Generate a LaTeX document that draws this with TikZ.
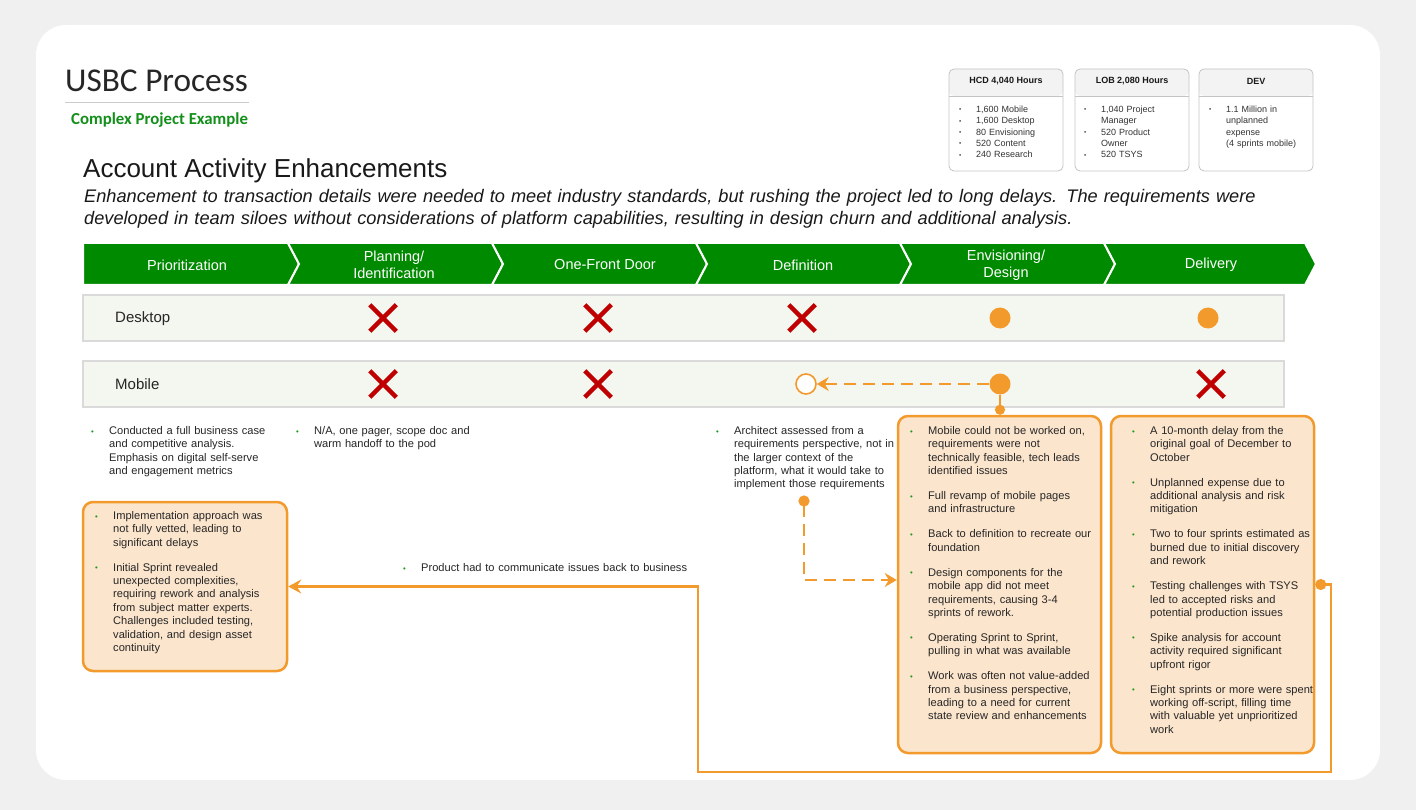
\documentclass[tikz,border=0pt]{standalone}
\usepackage{fontspec}
\setmainfont{Liberation Sans}
\newfontfamily\titlefont{Carlito}
\usepackage{graphicx}
\usetikzlibrary{arrows.meta}
\usetikzlibrary{shapes.misc}

\definecolor{stagegreen}{HTML}{008A00}
\definecolor{titlegreen}{HTML}{12901A}
\definecolor{bulgreen}{HTML}{1A9A1A}
\definecolor{flowor}{HTML}{F39A2C}
\definecolor{peach}{HTML}{FCE5CD}
\definecolor{xred}{HTML}{C00000}
\definecolor{rowfill}{HTML}{F3F7EF}
\definecolor{rowline}{HTML}{DADADA}
\definecolor{bodytext}{HTML}{262626}
\definecolor{pagegray}{HTML}{F0F0F0}
\definecolor{hdrgray}{HTML}{F3F3F3}
\definecolor{statline}{HTML}{C4C4C4}
\definecolor{rulegray}{HTML}{CCCCCC}

% bullet items: green ones for the notes, black ones for the hour boxes
\newcommand{\gitem}[1]{\par\noindent\hangindent=18pt\hangafter=1\makebox[18pt][l]{\strut\textcolor{bulgreen}{\raisebox{0.5pt}{\scalebox{0.7}{\textbullet}}}}{\let\\\newline#1}\par}
\newcommand{\gsep}{\vspace{11.65pt}}
\newcommand{\kitem}[1]{\par\noindent\hangindent=17pt\hangafter=1\makebox[17pt][l]{\strut\raisebox{0.5pt}{\scalebox{0.7}{\textbullet}}}{\let\\\newline#1}\par}

\tikzset{
  flowtip/.tip={Stealth[length=13pt, width=14pt, inset=4.5pt]},
  dashtip/.tip={Stealth[length=12pt, width=14pt, inset=4pt]},
  chevron/.style={fill=stagegreen, draw=white, line width=2pt},
  stagelabel/.style={text=white, font=\fontsize{14.5}{17}\selectfont, align=center, inner sep=0pt},
  rowbox/.style={fill=rowfill, draw=rowline, line width=1.6pt, minimum width=1201pt, minimum height=46pt, inner sep=0pt},
  rowlabel/.style={anchor=west, inner sep=0pt, text=bodytext, font=\fontsize{15}{18}\selectfont},
  crossmark/.style={cross out, draw=xred, line width=4.5pt, minimum size=22pt, inner sep=0pt},
  dotmark/.style={circle, fill=flowor, minimum size=21pt, inner sep=0pt},
  openmark/.style={circle, draw=flowor, line width=1.6pt, fill=white, minimum size=20pt, inner sep=0pt},
  notebox/.style={draw=flowor, line width=2.5pt, fill=peach, rounded corners=10pt, inner sep=0pt},
  notetext/.style={anchor=north west, inner sep=0pt, text width=195pt, align=left, text=bodytext, font=\fontsize{11.1}{13.35}\selectfont},
  statbox/.style={draw=statline, line width=0.8pt, fill=white, rounded corners=5pt, minimum width=114pt, minimum height=102pt, inner sep=0pt,
    path picture={
      \fill[hdrgray] (path picture bounding box.north west) rectangle ([yshift=-27pt]path picture bounding box.north east);
      \draw[statline, line width=0.8pt] ([yshift=-27pt]path picture bounding box.north west) -- ([yshift=-27pt]path picture bounding box.north east);
    }},
  stathead/.style={inner sep=0pt, text=black!90, font=\bfseries\fontsize{9}{11}\selectfont},
  statlist/.style={anchor=north west, inner sep=0pt, text width=100pt, align=left, text=black!80, font=\fontsize{9}{11.3}\selectfont},
  flow/.style={draw=flowor, line width=2.5pt},
  dashflow/.style={draw=flowor, line width=2.8pt, dash pattern=on 12pt off 7pt}
}

\begin{document}
\begin{tikzpicture}[x=1pt, y=-1pt]
  \useasboundingbox (0,0) rectangle (1416,810);
  \fill[pagegray] (0,0) rectangle (1416,810);
  \fill[white, rounded corners=30pt] (36,25) rectangle (1380,780);

  % title block
  \node[anchor=base west, inner sep=0pt, text=black!85, font=\titlefont\fontsize{33.3}{36}\selectfont] (title) at (65,92) {USBC Process};
  \draw[rulegray, line width=1pt] (65,103) -- (249,103);
  \node[anchor=base west, inner sep=0pt, text=titlegreen, font=\titlefont\bfseries\fontsize{16.8}{18}\selectfont] (example) at (71,125) {Complex Project Example};
  \node[anchor=base west, inner sep=0pt, text=black!90, font=\fontsize{26}{28}\selectfont] (heading) at (83,178) {Account Activity Enhancements};
  \node[anchor=north west, inner sep=0pt, text width=1300pt, align=left, text=black!90, font=\itshape\fontsize{18.2}{22}\selectfont] (summary) at (84,186.6)
    {\strut Enhancement to transaction details were needed to meet industry standards, but rushing the project led to long delays. The requirements were\\
     developed in team siloes without considerations of platform capabilities, resulting in design churn and additional analysis.};

  % hour boxes
  \node[statbox] (hcd) at (1006,120) {};
  \node[statbox] (lob) at (1132,120) {};
  \node[statbox] (dev) at (1256,120) {};
  \node[stathead] (hcdhead) at (1006,81) {HCD 4,040 Hours};
  \node[stathead] (lobhead) at (1132,81) {LOB 2,080 Hours};
  \node[stathead] (devhead) at (1256,81) {DEV};
  \node[statlist] (hcdlist) at (959,101) {\kitem{1,600 Mobile}\kitem{1,600 Desktop}\kitem{80 Envisioning}\kitem{520 Content}\kitem{240 Research}};
  \node[statlist] (loblist) at (1084,101) {\kitem{1,040 Project\\ Manager}\kitem{520 Product\\ Owner}\kitem{520 TSYS}};
  \node[statlist] (devlist) at (1209,101) {\kitem{1.1 Million in\\ unplanned\\ expense\\ (4 sprints mobile)}};

  % stage chevrons
  \foreach \l/\r/\n in {83/288/0, 288/492/11, 492/696/11, 696/900/11, 900/1104/11, 1104/1305/11}
    \filldraw[chevron] (\l,243) -- (\r,243) -- (\r+11,264) -- (\r,285) -- (\l,285) -- (\l+\n,264) -- cycle;
  \node[stagelabel] (prio) at (187,265) {Prioritization};
  \node[stagelabel] (plan) at (394,265) {Planning/\\Identification};
  \node[stagelabel] (ofd) at (605,265) {One-Front Door};
  \node[stagelabel] (defn) at (803,265) {Definition};
  \node[stagelabel] (envn) at (1006,265) {Envisioning/\\Design};
  \node[stagelabel] (deli) at (1211,265) {Delivery};

  % desktop and mobile rows
  \node[rowbox] (deskrow) at (683.5,318) {};
  \node[rowbox] (mobrow) at (683.5,384) {};
  \node[rowlabel] (desklab) at (115,318.5) {Desktop};
  \node[rowlabel] (moblab) at (115,384) {Mobile};

  \node[crossmark] (deskplan) at (383,318) {};
  \node[crossmark] (deskofd) at (598,318) {};
  \node[crossmark] (deskdef) at (802,318) {};
  \node[dotmark] (deskenv) at (1000,318) {};
  \node[dotmark] (deskdel) at (1208,318) {};

  \node[crossmark] (mobplan) at (383,384) {};
  \node[crossmark] (mobofd) at (598,384) {};
  \node[openmark] (mobdef) at (806,384) {};
  \node[dotmark] (mobenv) at (1000,384) {};
  \node[crossmark] (mobdel) at (1211,384) {};

  % notes under the stages
  \node[notetext] (bizcase) at (91,421) {\gitem{Conducted a full business case\\ and competitive analysis.\\ Emphasis on digital self-serve\\ and engagement metrics}};
  \node[notetext] (pager) at (296,421) {\gitem{N/A, one pager, scope doc and\\ warm handoff to the pod}};
  \node[notetext] (archtxt) at (716,421) {\gitem{Architect assessed from a\\ requirements perspective, not in\\ the larger context of the\\ platform, what it would take to\\ implement those requirements}};
  \node[notetext, text width=320pt] (prodtxt) at (403,558) {\gitem{Product had to communicate issues back to business}};

  % orange issue boxes
  \node[notebox, minimum width=204pt, minimum height=169pt] (leftbox) at (185,586.5) {};
  \node[notebox, minimum width=203pt, minimum height=337pt] (envbox) at (999.5,584.5) {};
  \node[notebox, minimum width=203pt, minimum height=337pt] (delbox) at (1212.5,584.5) {};

  \node[notetext] (lefttxt) at (95,506) {%
    \gitem{Implementation approach was\\ not fully vetted, leading to\\ significant delays}\gsep
    \gitem{Initial Sprint revealed\\ unexpected complexities,\\ requiring rework and analysis\\ from subject matter experts.\\ Challenges included testing,\\ validation, and design asset\\ continuity}};
  \node[notetext] (envtxt) at (910,421) {%
    \gitem{Mobile could not be worked on,\\ requirements were not\\ technically feasible, tech leads\\ identified issues}\gsep
    \gitem{Full revamp of mobile pages\\ and infrastructure}\gsep
    \gitem{Back to definition to recreate our\\ foundation}\gsep
    \gitem{Design components for the\\ mobile app did not meet\\ requirements, causing 3-4\\ sprints of rework.}\gsep
    \gitem{Operating Sprint to Sprint,\\ pulling in what was available}\gsep
    \gitem{Work was often not value-added\\ from a business perspective,\\ leading to a need for current\\ state review and enhancements}};
  \node[notetext] (deltxt) at (1132,421) {%
    \gitem{A 10-month delay from the\\ original goal of December to\\ October}\gsep
    \gitem{Unplanned expense due to\\ additional analysis and risk\\ mitigation}\gsep
    \gitem{Two to four sprints estimated as\\ burned due to initial discovery\\ and rework}\gsep
    \gitem{Testing challenges with TSYS\\ led to accepted risks and\\ potential production issues}\gsep
    \gitem{Spike analysis for account\\ activity required significant\\ upfront rigor}\gsep
    \gitem{Eight sprints or more were spent\\ working off-script, filling time\\ with valuable yet unprioritized\\ work}};

  % connectors
  \coordinate (archdot) at (804,495.5);
  \coordinate (loopse) at (1331,772);
  \coordinate (loopsw) at (698,772);

  \draw[dashflow, -dashtip] (mobenv) -- (mobdef);
  \draw[flow, -{Circle[length=10pt]}] (mobenv) -- (mobenv |- envbox.north);
  \draw[dashflow, {Circle[length=11pt]}-dashtip] (archdot) |- ([yshift=4.5pt]envbox.west);
  \draw[flow, {Circle[length=11pt]}-flowtip] (delbox.east) -| (loopse) -- (loopsw) |- (leftbox.east);
\end{tikzpicture}
\end{document}
